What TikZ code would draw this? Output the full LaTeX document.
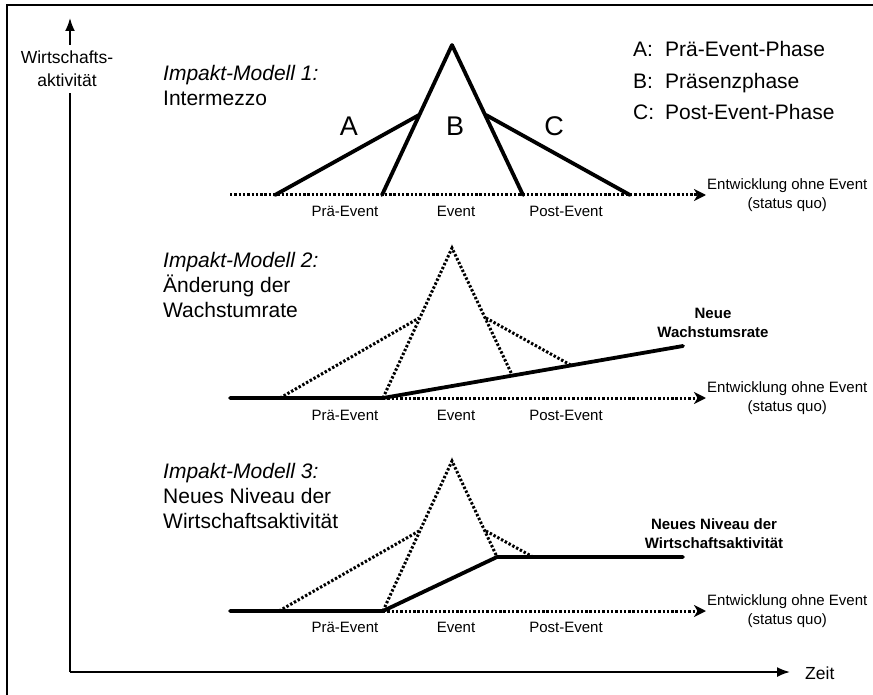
\documentclass[tikz,border=0pt]{standalone}
\usepackage{fontspec}
\setmainfont{Liberation Sans}
\usetikzlibrary{arrows.meta}
\begin{document}
\begin{tikzpicture}[x=1pt,y=-1pt,
  thickln/.style={line width=3.8pt,line cap=round,line join=round},
  dotln/.style={line width=3pt,dash pattern=on 2.4pt off 1.9pt},
  quo/.style={dotln,-{Stealth[length=12pt,width=12pt,inset=3.5pt]}},
  axisln/.style={line width=1.8pt,-{Latex[length=13pt,width=10pt]}},
  ttl/.style={anchor=base west,inner sep=0pt,align=left,font=\fontsize{21}{25}\selectfont},
  sub/.style={anchor=base,inner sep=0pt,font=\fontsize{15}{18}\selectfont},
  quotxt/.style={anchor=west,inner sep=0pt,align=center,font=\fontsize{15}{18.3}\selectfont},
  boldtxt/.style={anchor=base,inner sep=0pt,align=center,font=\fontsize{15}{19}\selectfont\bfseries},
  leg/.style={anchor=base west,inner sep=0pt,font=\fontsize{21}{25}\selectfont},
  phase/.style={anchor=base,inner sep=0pt,font=\fontsize{27}{30}\selectfont}]
\useasboundingbox (0,0) rectangle (873,695);
\draw[line width=1.5pt] (7,5) rectangle (900,720);

% axes
\coordinate (O) at (70,672);
\coordinate (ytip) at (70,18);
\coordinate (xtip) at (790,672);
\draw[axisln] (O) -- (ytip);
\draw[axisln] (O) -- (xtip);
\node[fill=white,inner xsep=2pt,inner ysep=6pt,align=center,font=\fontsize{17.5}{23}\selectfont] (ylab) at (67,69) {Wirtschafts-\\aktivität};
\node[anchor=west,inner sep=0pt,font=\fontsize{17.5}{20}\selectfont] (zeit) at (805,673) {Zeit};

% legend
\node[leg] (lA) at (633,57) {\makebox[32pt][l]{A:}Prä-Event-Phase};
\node[leg] (lB) at (633,89) {\makebox[32pt][l]{B:}Präsenzphase};
\node[leg] (lC) at (633,120) {\makebox[32pt][l]{C:}Post-Event-Phase};

% titles (base = last line)
\node[ttl] (t1) at (163,106) {\textit{Impakt-Modell 1:}\\Intermezzo};
\node[ttl] (t2) at (163,317) {\textit{Impakt-Modell 2:}\\Änderung der\\Wachstumrate};
\node[ttl] (t3) at (163,528) {\textit{Impakt-Modell 3:}\\Neues Niveau der\\Wirtschaftsaktivität};

% ---------- panel 1
\coordinate (p1s) at (230,195);
\coordinate (p1a) at (275,195);
\coordinate (p1b) at (382,195);
\coordinate (p1d) at (523,195);
\coordinate (p1e) at (630,195);
\coordinate (p1tip) at (706,195);
\coordinate (p1k) at (419,115);
\coordinate (p1top) at (452,45);
\coordinate (p1m) at (486,115);
\draw[quo] (p1s) -- (p1tip);
\draw[thickln] (p1a) -- (p1k);
\draw[thickln] (p1b) -- (p1top) -- (p1d);
\draw[thickln] (p1m) -- (p1e);
\node[phase] (pA) at (349,136) {A};
\node[phase] (pB) at (455,136) {B};
\node[phase] (pC) at (554,136) {C};
\node[sub] (s1a) at (345,217) {Prä-Event};
\node[sub] (s1b) at (456,217) {Event};
\node[sub] (s1c) at (566,217) {Post-Event};
\node[quotxt] (q1) at ([xshift=1pt]p1tip) {Entwicklung ohne Event\\(status quo)};

% ---------- panel 2
\coordinate (p2s) at (230,398);
\coordinate (p2a) at (280,398);
\coordinate (p2b) at (383,398);
\coordinate (p2d) at (523,398);
\coordinate (p2e) at (630,398);
\coordinate (p2tip) at (706,398);
\coordinate (p2k) at (419,318);
\coordinate (p2top) at (452,248);
\coordinate (p2m) at (486,318);
\coordinate (p2end) at (683,346);
\coordinate (p2x) at (intersection of p2top--p2d and p2b--p2end);
\coordinate (p2y) at (intersection of p2m--p2e and p2b--p2end);
\draw[quo] (p2b) -- (p2tip);
\draw[dotln] (p2a) -- (p2k);
\draw[dotln] (p2b) -- (p2top) -- (p2x);
\draw[dotln] (p2m) -- (p2y);
\draw[thickln] (p2s) -- (p2b) -- (p2end);
\node[sub] (s2a) at (345,420) {Prä-Event};
\node[sub] (s2b) at (456,420) {Event};
\node[sub] (s2c) at (566,420) {Post-Event};
\node[quotxt] (q2) at ([xshift=1pt]p2tip) {Entwicklung ohne Event\\(status quo)};
\node[boldtxt] (nw) at (713,337) {Neue\\Wachstumsrate};

% ---------- panel 3
\coordinate (p3s) at (230,611);
\coordinate (p3a) at (279,611);
\coordinate (p3b) at (383,611);
\coordinate (p3tip) at (706,611);
\coordinate (p3k) at (419,531);
\coordinate (p3top) at (452,461);
\coordinate (p3m) at (486,531);
\coordinate (p3c) at (497,557);
\coordinate (p3cc) at (533,557);
\coordinate (p3end) at (683,557);
\draw[quo] (p3b) -- (p3tip);
\draw[dotln] (p3a) -- (p3k);
\draw[dotln] (p3b) -- (p3top) -- (p3c);
\draw[dotln] (p3m) -- (p3cc);
\draw[thickln] (p3s) -- (p3b) -- (p3c) -- (p3end);
\node[sub] (s3a) at (345,632) {Prä-Event};
\node[sub] (s3b) at (456,632) {Event};
\node[sub] (s3c) at (566,632) {Post-Event};
\node[quotxt] (q3) at ([xshift=1pt]p3tip) {Entwicklung ohne Event\\(status quo)};
\node[boldtxt] (nn) at (714,548) {Neues Niveau der\\Wirtschaftsaktivität};
\end{tikzpicture}
\end{document}
